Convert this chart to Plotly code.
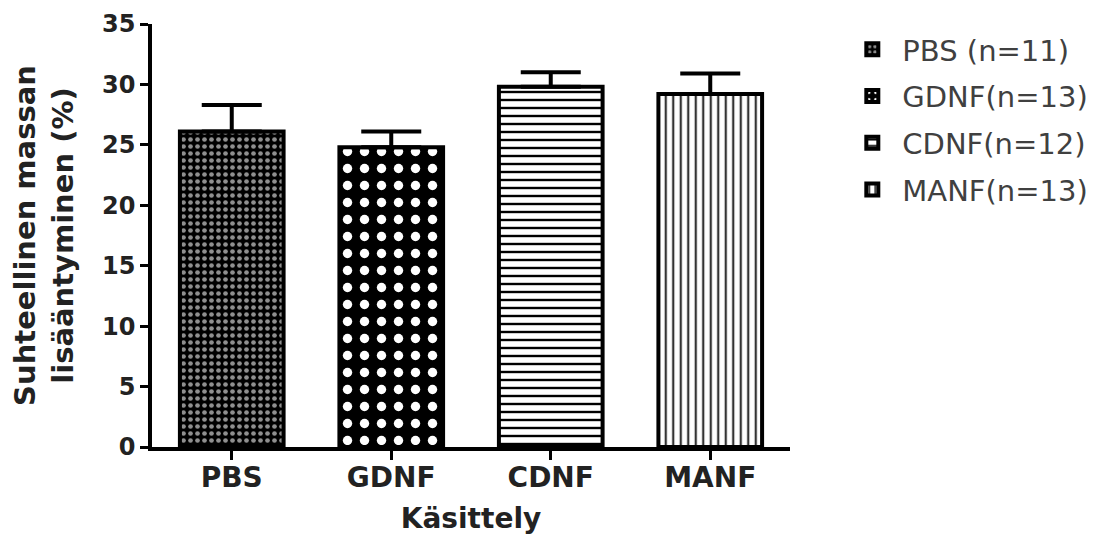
import plotly.graph_objects as go

categories = ["PBS", "GDNF", "CDNF", "MANF"]
legend_names = ["PBS (n=11)", "GDNF(n=13)", "CDNF(n=12)", "MANF(n=13)"]
means = [26.1, 24.8, 29.8, 29.2]
sem_up = [2.2, 1.3, 1.2, 1.7]
y_ticks = [0, 5, 10, 15, 20, 25, 30, 35]

patterns = [
    dict(shape=".", bgcolor="black", fgcolor="#8f8f8f", size=7, solidity=0.35, fillmode="replace"),
    dict(shape=".", bgcolor="black", fgcolor="white", size=17, solidity=0.24, fillmode="replace"),
    dict(shape="-", bgcolor="white", fgcolor="black", size=8, solidity=0.3, fillmode="replace"),
    dict(shape="|", bgcolor="white", fgcolor="#333333", size=7.5, solidity=0.3, fillmode="replace"),
]

FONT = "DejaVu Sans, Liberation Sans, Arial"

fig = go.Figure()
for i, cat in enumerate(categories):
    fig.add_trace(go.Bar(
        x=[cat], y=[means[i]], name=legend_names[i], width=0.65,
        legendgroup=f"g{i}",
        marker=dict(color="white", pattern=patterns[i], line=dict(color="black", width=4)),
        error_y=dict(type="data", symmetric=False, array=[sem_up[i]], arrayminus=[0],
                     color="black", thickness=4, width=30),
    ))

fig.update_layout(
    width=1109, height=547,
    margin=dict(l=144, r=327, t=16, b=108),
    paper_bgcolor="white", plot_bgcolor="white",
    barmode="overlay",
    font=dict(family=FONT, color="#222222"),
    legend=dict(x=1.082, y=1.0, xanchor="left", yanchor="top",
                font=dict(family=FONT, size=29, color="#404040"),
                tracegroupgap=6, itemwidth=50),
    xaxis=dict(range=[-0.5, 3.5], showline=True, linewidth=3.5, linecolor="black",
               automargin=False,
               ticks="outside", ticklen=9, tickwidth=3, tickcolor="black",
               ticklabelstandoff=-6,
               tickfont=dict(family=FONT, size=28, color="#222222", weight="bold"),
               showgrid=False, zeroline=False,
               title=dict(text="Käsittely", font=dict(family=FONT, size=28, color="#222222", weight="bold"),
                          standoff=16)),
    yaxis=dict(range=[0, 35], tickvals=y_ticks, showline=True, linewidth=3.5, linecolor="black",
               automargin=False,
               ticks="outside", ticklen=8, tickwidth=3, tickcolor="black",
               tickfont=dict(family=FONT, size=24, color="#222222", weight="bold"),
               showgrid=False, zeroline=False,
               title=dict(text="Suhteellinen massan<br>lisääntyminen (%)",
                          font=dict(family=FONT, size=29, color="#222222", weight="bold"),
                          standoff=22)),
)

fig.write_html("out.html")
